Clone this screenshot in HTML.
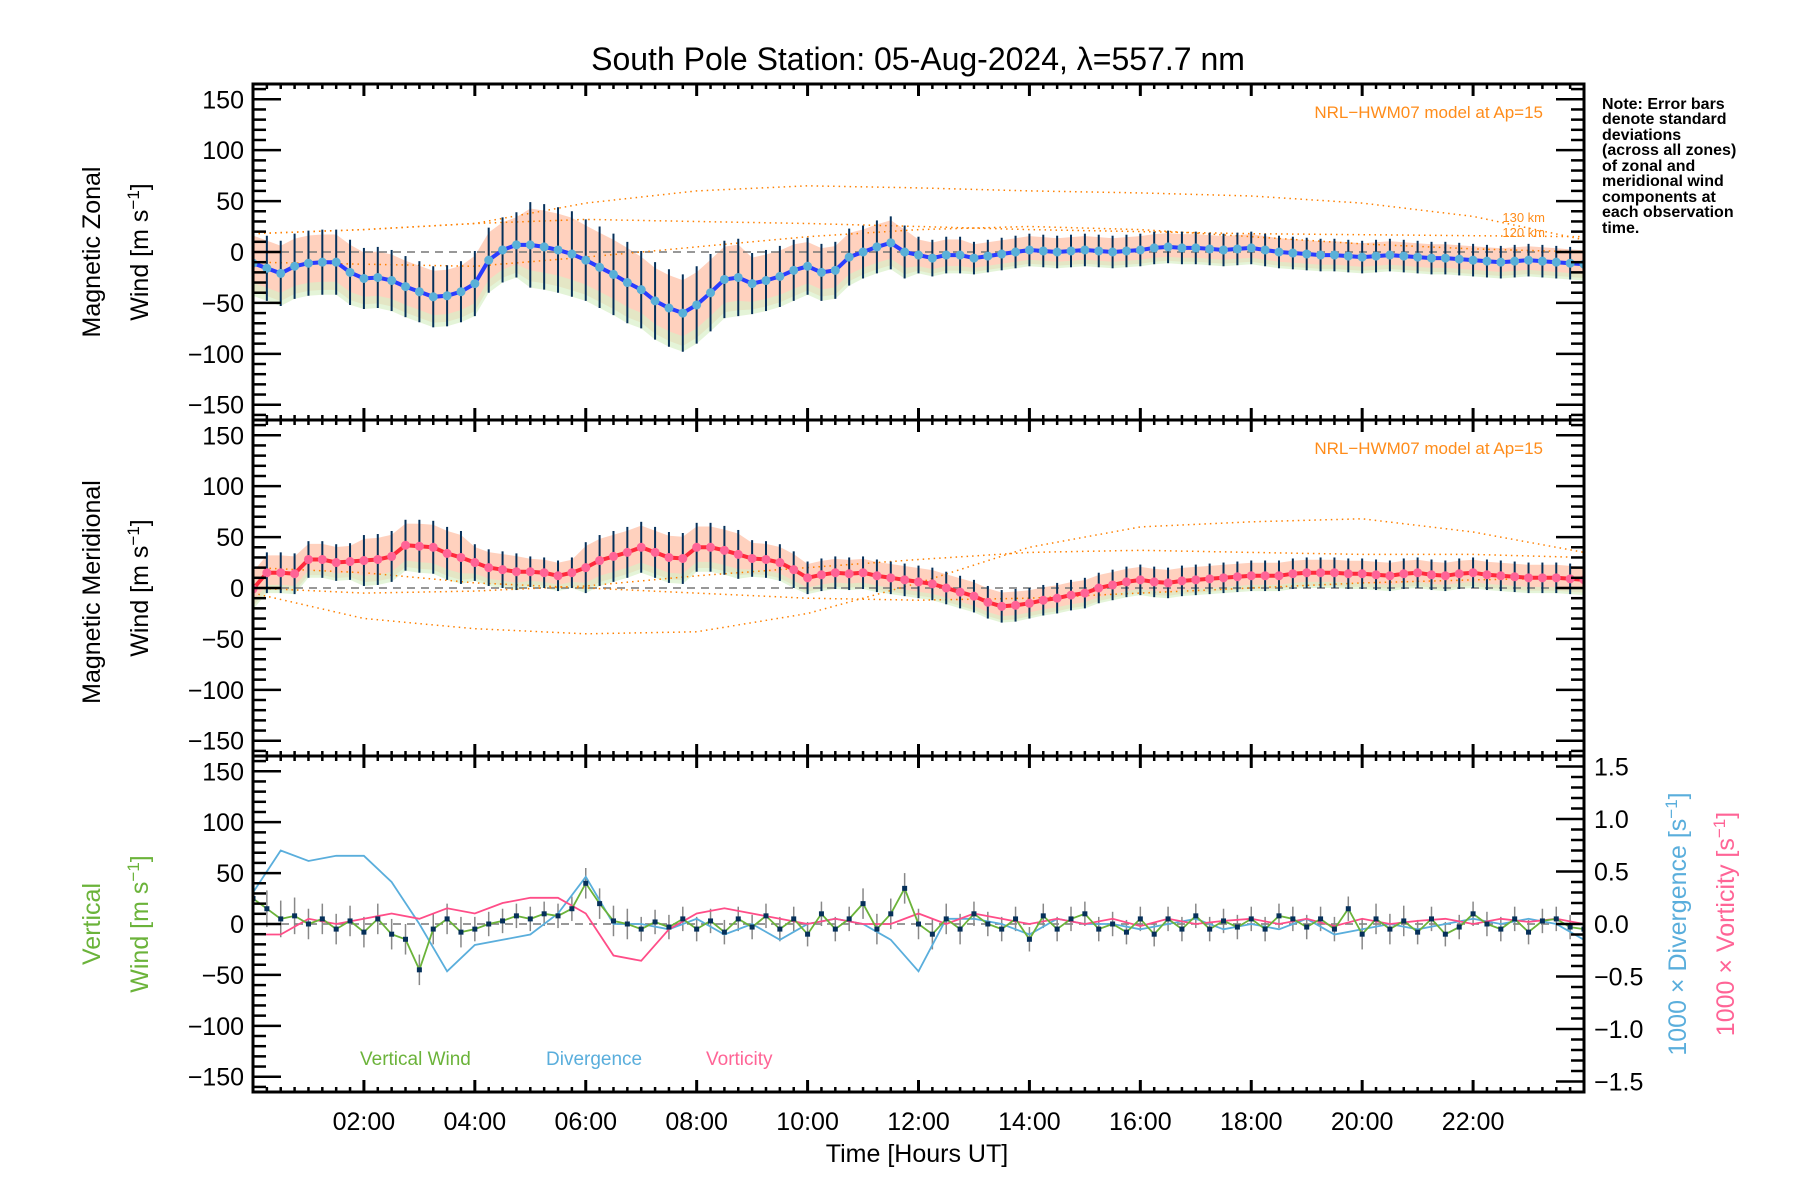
<!DOCTYPE html>
<html><head><meta charset="utf-8"><style>
html,body{margin:0;padding:0;background:#fff;}
svg{display:block;font-family:"Liberation Sans",sans-serif;}
</style></head><body>
<svg id="chart" width="1800" height="1200" viewBox="0 0 1800 1200" xmlns="http://www.w3.org/2000/svg">
<text x="918" y="70" font-size="32" text-anchor="middle">South Pole Station: 05-Aug-2024, λ=557.7 nm</text>
<g id="layer"></g>
<g font-size="16" font-weight="bold" fill="#000">
<text x="1602" y="109">Note: Error bars</text>
<text x="1602" y="124">denote standard</text>
<text x="1602" y="140">deviations</text>
<text x="1602" y="155">(across all zones)</text>
<text x="1602" y="171">of zonal and</text>
<text x="1602" y="186">meridional wind</text>
<text x="1602" y="202">components at</text>
<text x="1602" y="217">each observation</text>
<text x="1602" y="233">time.</text>
</g>
<text x="1543" y="118" font-size="17" fill="#ff8c1a" text-anchor="end">NRL−HWM07 model at Ap=15</text>
<text x="1543" y="454" font-size="17" fill="#ff8c1a" text-anchor="end">NRL−HWM07 model at Ap=15</text>
<text x="1545" y="222" font-size="13" fill="#ff8c1a" text-anchor="end">130 km</text>
<text x="1545" y="237" font-size="13" fill="#ff8c1a" text-anchor="end">120 km</text>
<text transform="translate(100,252) rotate(-90)" font-size="25" text-anchor="middle">Magnetic Zonal</text>
<text transform="translate(148,252) rotate(-90)" font-size="25" text-anchor="middle">Wind [m s<tspan baseline-shift="super" font-size="17">−1</tspan>]</text>
<text transform="translate(100,592) rotate(-90)" font-size="25" text-anchor="middle">Magnetic Meridional</text>
<text transform="translate(148,588) rotate(-90)" font-size="25" text-anchor="middle">Wind [m s<tspan baseline-shift="super" font-size="17">−1</tspan>]</text>
<text transform="translate(100,924) rotate(-90)" font-size="25" text-anchor="middle" fill="#6bb33a">Vertical</text>
<text transform="translate(148,924) rotate(-90)" font-size="25" text-anchor="middle" fill="#6bb33a">Wind [m s<tspan baseline-shift="super" font-size="17">−1</tspan>]</text>
<text transform="translate(1686,924) rotate(-90)" font-size="25" text-anchor="middle" fill="#5aaedc">1000 × Divergence [s<tspan baseline-shift="super" font-size="17">−1</tspan>]</text>
<text transform="translate(1734,924) rotate(-90)" font-size="25" text-anchor="middle" fill="#ff6496">1000 × Vorticity [s<tspan baseline-shift="super" font-size="17">−1</tspan>]</text>
<text x="360" y="1065" font-size="19" fill="#6bb33a">Vertical Wind</text>
<text x="546" y="1065" font-size="19" fill="#5aaedc">Divergence</text>
<text x="706" y="1065" font-size="19" fill="#ff6496">Vorticity</text>
<text x="917" y="1162" font-size="25" text-anchor="middle">Time [Hours UT]</text>
</svg>
<script>
const zonal=[-11,-16,-21,-14,-11,-10,-10,-20,-26,-25,-28,-34,-39,-44,-43,-39,-31,-8,2,7,7,5,2,-2,-8,-15,-22,-30,-37,-48,-55,-60,-52,-40,-27,-25,-31,-28,-24,-18,-14,-20,-18,-5,0,5,9,0,-3,-6,-3,-3,-6,-4,-2,0,2,1,0,1,2,1,0,1,2,4,5,4,4,3,2,3,4,2,0,-1,-2,-3,-3,-4,-5,-4,-3,-4,-5,-6,-6,-7,-8,-9,-10,-9,-8,-9,-10,-11,-12];
const merid=[-1,15,15,14,28,28,25,26,27,28,31,42,41,40,34,30,25,20,18,16,16,15,12,15,20,27,31,35,40,35,30,29,40,40,37,33,29,28,25,18,10,13,15,14,15,12,10,8,6,4,0,-4,-8,-14,-18,-17,-15,-12,-10,-7,-5,0,3,6,8,6,5,7,8,9,10,11,12,12,12,14,15,15,15,14,14,13,12,14,15,13,12,14,15,13,12,11,10,10,10,9,8];
const vert=[25,15,5,8,0,5,-5,3,-8,5,-10,-15,-45,-5,5,-8,-5,0,3,8,5,10,8,15,40,20,3,0,-5,2,-3,5,-5,3,-8,5,-3,8,-5,5,-10,10,-5,5,20,-5,10,35,0,-10,5,-5,10,0,-5,5,-15,8,-5,5,10,-5,0,-8,5,-10,5,-5,8,-5,3,-3,5,-5,8,5,-3,5,-5,15,-10,5,-5,3,-8,5,-10,-3,10,0,-5,5,-8,3,5,-3,-5];
const stdZonalHourly=[32,32,30,30,32,42,40,38,38,30,28,26,18,16,16,16,16,16,16,16,16,16,16,16,16];
const stdMeridHourly=[20,18,25,26,18,15,25,25,24,18,16,16,16,16,15,15,15,15,15,15,15,15,15,15,15];
const stdVertHourly=[18,15,15,15,12,12,15,12,12,12,12,15,15,12,12,12,12,12,12,12,15,12,12,12,12];
const div=[0.3,0.7,0.6,0.65,0.65,0.4,0.0,-0.45,-0.2,-0.15,-0.1,0.1,0.45,0.0,0.0,-0.05,0.05,-0.1,0.0,-0.15,0.0,0.05,0.0,-0.15,-0.45,0.05,0.05,0.0,-0.1,0.05,0.0,0.0,-0.05,0.0,0.05,-0.05,0.0,-0.05,0.05,-0.1,-0.05,0.0,-0.05,0.0,0.05,0.0,0.05,0.0,-0.15];
const vort=[-0.1,-0.1,0.05,0.0,0.05,0.1,0.05,0.15,0.1,0.2,0.25,0.25,0.1,-0.3,-0.35,-0.05,0.1,0.15,0.1,0.05,0.0,0.05,0.0,0.0,0.1,0.0,0.1,0.05,0.0,0.05,0.0,0.05,-0.02,0.05,0.0,0.03,0.05,0.0,0.05,-0.02,0.05,0.0,0.03,0.05,0.0,0.05,0.02,0.05,0.0];
const modelHours=[0,2,4,6,8,10,12,14,16,18,20,22,24];
const zonalModel1=[18,22,28,48,60,65,63,60,58,55,48,35,12];
const zonalModel2=[18,22,28,32,30,28,25,22,20,18,17,16,15];
const zonalModel3=[-10,-12,-14,-5,5,15,22,25,22,15,8,3,0];
const meridModel1=[-5,-30,-40,-45,-43,-25,5,40,60,65,68,55,35];
const meridModel2=[0,-5,-3,2,12,20,28,35,37,35,33,33,30];
const meridModel3=[20,15,5,0,-5,-10,-12,-10,-5,0,5,8,10];
const xTickLabels=["02:00","04:00","06:00","08:00","10:00","12:00","14:00","16:00","18:00","20:00","22:00"];
const yTickValues=[-150,-100,-50,0,50,100,150];
const rTickLabels=["−1.5","−1.0","−0.5","0.0","0.5","1.0","1.5"];
const rTickValues=[-1.5,-1.0,-0.5,0,0.5,1.0,1.5];

const NS='http://www.w3.org/2000/svg';
const L=253,R=1584,PT=[84,420,756],PH=336;
const layer=document.getElementById('layer');
function X(h){return L+h*(R-L)/24;}
function Y(p,v){return PT[p]+PH/2-v*(PH/2)/165;}
function YR(v){return PT[2]+PH/2-v*(PH/2)/1.6;}
function mk(tag,attrs,parent){const e=document.createElementNS(NS,tag);for(const k in attrs)e.setAttribute(k,attrs[k]);(parent||layer).appendChild(e);return e;}
function hourOf(i,n){return i*24/(n-1);}
function poly(vals,hours,yf){return vals.map((v,i)=>X(hours?hours[i]:hourOf(i,vals.length)).toFixed(1)+','+yf(v).toFixed(1)).join(' ');}

const defs=mk('defs',{});
[0,1,2].forEach(p=>{const c=mk('clipPath',{id:'clip'+p},defs);mk('rect',{x:L,y:PT[p],width:R-L,height:PH},c);});

function windPanel(p,vals,std,models,lineColor,dotColor,name){
  const g=mk('g',{'clip-path':'url(#clip'+p+')'});
  
  
  const n=vals.length;
  const up=vals.map((v,i)=>X(hourOf(i,n)).toFixed(1)+','+Y(p,v+std[Math.min(24,Math.floor(hourOf(i,n)))]*0.85).toFixed(1));
  const dn=vals.map((v,i)=>X(hourOf(i,n)).toFixed(1)+','+Y(p,v-std[Math.min(24,Math.floor(hourOf(i,n)))]*0.85).toFixed(1)).reverse();
  const band=mk('polygon',{points:up.concat(dn).join(' '),fill:'#ffc2a8',opacity:'0.75'},g);
  
  
  const up2=vals.map((v,i)=>X(hourOf(i,n)).toFixed(1)+','+Y(p,v-std[Math.min(24,Math.floor(hourOf(i,n)))]*0.6).toFixed(1));
  const dn2=vals.map((v,i)=>X(hourOf(i,n)).toFixed(1)+','+Y(p,v-std[Math.min(24,Math.floor(hourOf(i,n)))]*1.0).toFixed(1)).reverse();
  const band2=mk('polygon',{points:up2.concat(dn2).join(' '),fill:'#d8f0c8',opacity:'0.7'},g);
  
  
  const z=mk('line',{x1:L,x2:R,y1:Y(p,0),y2:Y(p,0),stroke:'#777','stroke-dasharray':'8,6','stroke-width':1.5},g);
  
  
  models.forEach((m,k)=>{
    const pl=mk('polyline',{points:poly(m,modelHours,v=>Y(p,v)),fill:'none',stroke:'#ff8000','stroke-width':1.5,'stroke-dasharray':'1.5,4'},g);
    
    
  });
  vals.forEach((v,i)=>{
    const h=hourOf(i,n),s=std[Math.min(24,Math.floor(h))];
    const e=mk('line',{x1:X(h),x2:X(h),y1:Y(p,v-s),y2:Y(p,v+s),stroke:'#06305a','stroke-width':2},g);
    
    
  });
  const ln=mk('polyline',{points:poly(vals,null,v=>Y(p,v)),fill:'none',stroke:lineColor,'stroke-width':4},g);
  
  
  vals.forEach((v,i)=>{
    const c=mk('circle',{cx:X(hourOf(i,n)),cy:Y(p,v),r:4.5,fill:dotColor},g);
    
    
  });
}
windPanel(0,zonal,stdZonalHourly,[zonalModel1,zonalModel2,zonalModel3],'#2a3cff','#5ab0d8','zonal');
windPanel(1,merid,stdMeridHourly,[meridModel1,meridModel2,meridModel3],'#ff2a3c','#ff6496','meridional');

(function(){
  const p=2;
  const g=mk('g',{'clip-path':'url(#clip2)'});
  
  
  const z=mk('line',{x1:L,x2:R,y1:Y(p,0),y2:Y(p,0),stroke:'#777','stroke-dasharray':'8,6','stroke-width':1.5},g);
  
  
  const n=vert.length;
  vert.forEach((v,i)=>{
    const h=hourOf(i,n),s=stdVertHourly[Math.min(24,Math.floor(h))];
    const e=mk('line',{x1:X(h),x2:X(h),y1:Y(p,v-s),y2:Y(p,v+s),stroke:'#888','stroke-width':1.5},g);
    
    
  });
  const dl=mk('polyline',{points:poly(div,null,YR),fill:'none',stroke:'#5aaedc','stroke-width':1.8},g);
  
  
  const vl=mk('polyline',{points:poly(vort,null,YR),fill:'none',stroke:'#ff4d88','stroke-width':1.8},g);
  
  
  const wl=mk('polyline',{points:poly(vert,null,v=>Y(p,v)),fill:'none',stroke:'#6bb33a','stroke-width':1.8},g);
  
  
  vert.forEach((v,i)=>{
    const r=mk('rect',{x:X(hourOf(i,n))-2.5,y:Y(p,v)-2.5,width:5,height:5,fill:'#06305a'},g);
    
    
  });
})();

const ax=mk('g',{stroke:'#000'});


[0,1,2].forEach(p=>{
  const fr=mk('rect',{x:L,y:PT[p],width:R-L,height:PH,fill:'none','stroke-width':3},ax);
  
  
  for(let v=-160;v<=160;v+=10){
    const major=v%50===0;
    const len=major?28:13;
    const y=Y(p,v);
    mk('line',{x1:L,x2:L+len,y1:y,y2:y,'stroke-width':2.5},ax);
    if(p<2) mk('line',{x1:R,x2:R-len,y1:y,y2:y,'stroke-width':2.5},ax);
  }
  for(let q=0;q<=96;q++){
    const h=q/4,x=X(h),major=q%8===0,len=major?12:5;
    mk('line',{x1:x,x2:x,y1:PT[p],y2:PT[p]+len,'stroke-width':major?3:2.5},ax);
    mk('line',{x1:x,x2:x,y1:PT[p]+PH,y2:PT[p]+PH-len,'stroke-width':major?3:2.5},ax);
  }
  yTickValues.forEach(v=>{
    const t=mk('text',{x:L-9,y:Y(p,v)+9,'font-size':25,'text-anchor':'end',stroke:'none',fill:'#000'});
    t.textContent=v<0?'−'+Math.abs(v):String(v);
    
    
  });
});
for(let v=-1.6;v<=1.61;v+=0.1){
  const r=Math.round(v*10);const major=r%5===0;const len=major?28:13;
  mk('line',{x1:R,x2:R-len,y1:YR(r/10),y2:YR(r/10),'stroke-width':2.5},ax);
}
rTickValues.forEach((v,i)=>{
  const t=mk('text',{x:R+10,y:YR(v)+9,'font-size':25,stroke:'none',fill:'#000'});
  t.textContent=rTickLabels[i];
  
  
});
xTickLabels.forEach((s,i)=>{
  const t=mk('text',{x:X(2*(i+1)),y:1130,'font-size':25,'text-anchor':'middle',stroke:'none',fill:'#000'});
  t.textContent=s;
  
  
});
</script>
</body></html>
